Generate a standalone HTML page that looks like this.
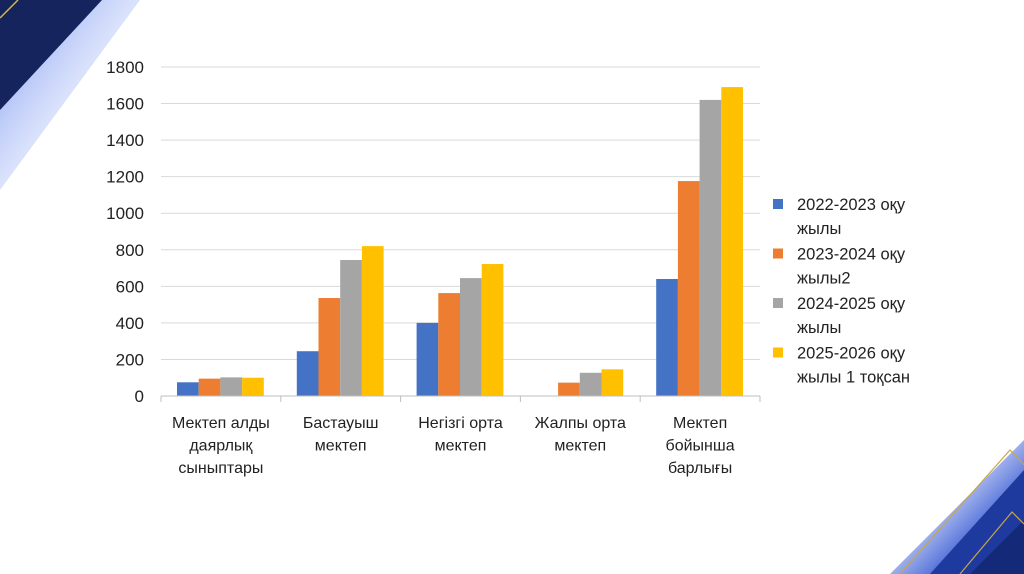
<!DOCTYPE html>
<html><head><meta charset="utf-8"><style>
html,body{margin:0;padding:0;background:#fff;width:1024px;height:574px;overflow:hidden}
svg text{font-family:"Liberation Sans","DejaVu Sans",sans-serif;fill:#222}
</style></head><body>
<svg id="s" width="1024" height="574" viewBox="0 0 1024 574">
<defs>
<linearGradient id="gTL" x1="0" y1="0" x2="1" y2="1"><stop offset="0" stop-color="#6f8ef0"/><stop offset="1" stop-color="#ffffff" stop-opacity="0"/></linearGradient>
<linearGradient id="gBR" x1="1" y1="1" x2="0" y2="0"><stop offset="0.3" stop-color="#3d5fd6"/><stop offset="1" stop-color="#ffffff" stop-opacity="0"/></linearGradient>
</defs>
<g>
<polygon points="0,0 140,0 0,190" fill="url(#gTL)"/>
<polygon points="0,0 102,0 0,110" fill="#16245e"/>
<line x1="0" y1="18" x2="18" y2="0" stroke="#d9b74a" stroke-width="1.5"/>
</g>
<g>
<polygon points="1024,440 1024,574 890,574" fill="url(#gBR)"/>
<polygon points="1024,470 1024,574 930,574" fill="#1e3a9e"/>
<polygon points="1024,520 1024,574 970,574" fill="#142a78"/>
<polyline points="900,574 1010,450 1024,465" fill="none" stroke="#c9a54a" stroke-width="1.2"/>
<polyline points="960,574 1012,512 1024,524" fill="none" stroke="#c9a54a" stroke-width="1.2"/>
</g>
<g id="grid"></g><g id="bars"></g><g id="axes"></g><g id="legend"></g>
</svg>
<script>
const categories=[["Мектеп алды","даярлық","сыныптары"],["Бастауыш","мектеп"],["Негізгі орта","мектеп"],["Жалпы орта","мектеп"],["Мектеп","бойынша","барлығы"]];
const series2022=[75,245,400,0,640];
const series2023=[95,536,563,73,1176];
const series2024=[102,744,645,127,1620];
const series2025=[100,820,722,146,1690];
const yTicks=[0,200,400,600,800,1000,1200,1400,1600,1800];
const seriesNames=[["2022-2023 оқу","жылы"],["2023-2024 оқу","жылы2"],["2024-2025 оқу","жылы"],["2025-2026 оқу","жылы 1 тоқсан"]];
const colors=["#4472c4","#ed7d31","#a5a5a5","#ffc000"];
const allSeries=[series2022,series2023,series2024,series2025];
const NS="http://www.w3.org/2000/svg";
const X0=161,X1=760,Y0=396,Y1=67,YMAX=1800;
const y=v=>Y0-(v/YMAX)*(Y0-Y1);
const catW=(X1-X0)/categories.length;
const x=i=>X0+i*catW;
function mk(t,a,p){const e=document.createElementNS(NS,t);for(const k in a)e.setAttribute(k,a[k]);p.appendChild(e);return e;}
const grid=document.getElementById('grid'),bars=document.getElementById('bars'),axes=document.getElementById('axes'),legend=document.getElementById('legend');
yTicks.forEach(t=>{
 if(t>0){const l=mk('line',{x1:X0,x2:X1,y1:y(t),y2:y(t),stroke:'#d9d9d9','stroke-width':1},grid);
 
 }
 const tx=mk('text',{x:144,y:y(t)+6,'text-anchor':'end','font-size':17},axes);tx.textContent=t;
 
 
});
const ax=mk('line',{x1:X0,x2:X1,y1:Y0,y2:Y0,stroke:'#bfbfbf','stroke-width':1},axes);


for(let i=0;i<=categories.length;i++){const tk=mk('line',{x1:x(i),x2:x(i),y1:Y0,y2:Y0+6,stroke:'#bfbfbf'},axes);
 
 }
const bw=21.7,pad=16;
categories.forEach((c,i)=>{
 allSeries.forEach((ser,j)=>{
  const v=ser[i];if(v<=0)return;
  const r=mk('rect',{x:x(i)+pad+j*bw,y:y(v),width:bw,height:Y0-y(v),fill:colors[j]},bars);
  
  
 });
 c.forEach((ln,k)=>{const t=mk('text',{x:x(i)+catW/2,y:428+k*22.5,'text-anchor':'middle','font-size':16},axes);t.textContent=ln;
  
  });
});
seriesNames.forEach((n,j)=>{
 const cy=204+j*49.5;
 const r=mk('rect',{x:773,y:cy-5,width:10,height:10,fill:colors[j]},legend);
 
 
 n.forEach((ln,k)=>{const t=mk('text',{x:797,y:cy+6+k*24,'font-size':16.5},legend);t.textContent=ln;
  
  });
});
</script>
</body></html>
